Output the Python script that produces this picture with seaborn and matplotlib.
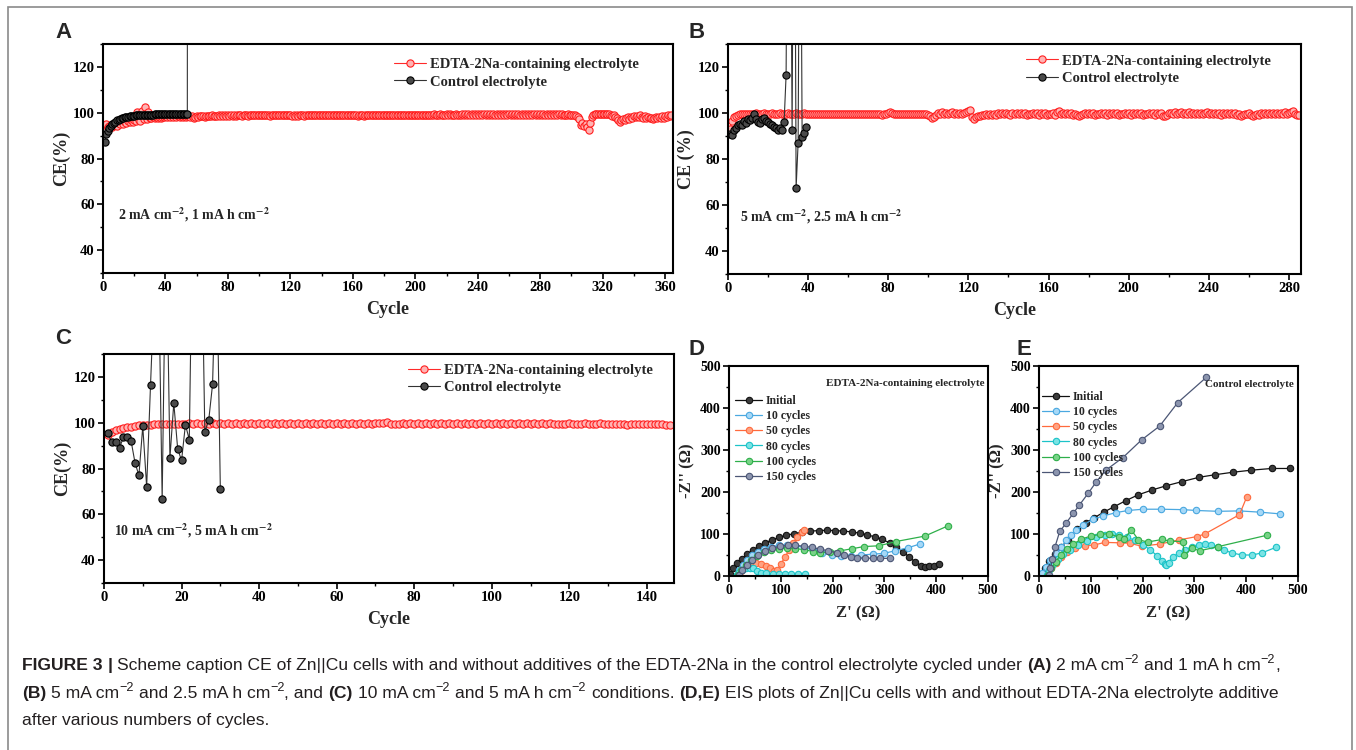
import matplotlib
matplotlib.use("Agg")
import numpy as np
import pandas as pd
import seaborn as sns
import matplotlib.pyplot as plt
from matplotlib.ticker import MultipleLocator
from matplotlib.patches import Rectangle

# ---------------- data ----------------
# Panel A: 2 mA cm-2, 1 mA h cm-2
a_edta = [94.5, 95.1, 93.8, 94.3, 94.7, 93.9, 94.8, 95.3, 94.4, 95.5, 94.9, 95.8, 95.2, 96.1, 95.6, 96.3, 95.8, 96.6, 96.0, 96.9,
          96.3, 100.3, 96.9, 96.5, 100.9, 97.2, 102.6, 97.4, 100.5, 97.8, 97.5, 98.0, 97.6, 98.1, 97.8, 98.2, 97.9, 98.3, 98.0, 98.4,
          98.1, 98.4, 98.2, 98.5, 98.1, 98.4, 98.2, 98.5, 98.3, 98.6, 98.2, 98.5, 98.3, 98.6, 98.4, 98.1, 98.4, 97.9, 98.3, 98.5,
          98.3, 98.6, 98.4, 98.7, 98.3, 98.6, 98.4, 98.7, 98.5, 98.8, 98.4, 98.7, 98.5, 98.8, 98.6, 98.9, 98.5, 98.8, 98.6, 98.9,
          98.7, 98.9, 98.6, 99.0, 98.7, 98.9, 98.8, 99.0, 98.7, 99.1, 98.8, 99.0, 98.7, 99.1, 98.9, 99.0, 98.8, 99.1, 98.9, 99.2,
          98.9, 99.1, 98.8, 99.0, 98.9, 99.1, 98.7, 99.0, 98.8, 99.1, 98.9, 99.0, 98.8, 99.1, 98.9, 99.2, 98.8, 99.0, 98.9, 99.1,
          98.7, 98.9, 98.6, 98.9, 98.7, 99.0, 98.8, 98.9, 98.7, 99.0, 98.8, 99.1, 98.9, 99.0, 98.8, 99.1, 98.9, 99.2, 98.9, 99.1,
          99.0, 99.2, 98.9, 99.1, 99.0, 99.2, 98.9, 99.1, 99.0, 99.2, 98.9, 99.1, 98.8, 99.0, 98.9, 99.1, 98.8, 99.0, 98.9, 99.1,
          98.8, 99.0, 98.7, 98.9, 98.8, 99.0, 98.7, 98.9, 98.8, 99.0, 98.9, 99.1, 98.8, 99.0, 98.9, 99.1, 98.8, 99.0, 98.9, 99.1,
          98.9, 99.1, 99.0, 99.2, 98.9, 99.1, 99.0, 99.2, 99.0, 99.1, 98.9, 99.2, 99.0, 99.1, 98.9, 99.2, 99.0, 99.1, 99.0, 99.2,
          99.0, 99.2, 98.9, 99.1, 99.0, 99.2, 99.0, 99.1, 98.9, 99.2, 99.0, 99.3, 99.1, 99.2, 99.0, 99.3, 99.1, 99.2, 99.0, 99.3,
          99.1, 99.3, 99.0, 99.2, 99.1, 99.3, 99.0, 99.2, 99.1, 99.4, 99.1, 99.3, 99.2, 99.4, 99.1, 99.3, 99.2, 99.4, 99.1, 99.3,
          99.2, 99.4, 99.1, 99.3, 99.2, 99.4, 99.1, 99.3, 99.2, 99.4, 99.2, 99.3, 99.1, 99.4, 99.2, 99.3, 99.1, 99.4, 99.2, 99.3,
          99.1, 99.3, 99.2, 99.4, 99.1, 99.3, 99.2, 99.4, 99.1, 99.3, 99.2, 99.4, 99.1, 99.3, 99.2, 99.3, 99.1, 99.4, 99.2, 99.3,
          99.1, 99.3, 99.2, 99.3, 99.1, 99.3, 99.2, 99.4, 99.1, 99.3, 99.2, 99.3, 99.1, 99.3, 99.0, 99.2, 99.1, 99.3, 99.0, 99.2,
          99.0, 98.9, 98.7, 98.3, 97.4, 94.6, 95.6, 94.1, 95.2, 93.6, 92.6, 95.4, 98.3, 99.2, 99.4, 99.5, 99.3, 99.5, 99.4, 99.6,
          99.4, 99.5, 99.3, 99.4, 99.1, 98.6, 99.0, 98.1, 97.6, 96.9, 96.1, 96.6, 97.3, 96.8, 97.6, 98.1, 97.3, 98.3, 97.6, 98.5,
          98.0, 98.7, 98.2, 98.8, 98.3, 97.8, 98.4, 97.6, 98.1, 97.5, 97.9, 97.4, 97.8, 98.3, 97.5, 98.1, 97.6, 98.4, 97.8, 98.6,
          98.3, 98.9, 98.6, 99.1]
a_ctrl = [87.0, 90.8, 92.2, 93.3, 94.2, 95.0, 95.6, 96.1, 96.6, 97.0,
          97.3, 97.6, 97.8, 98.0, 98.2, 98.3, 98.4, 98.5, 98.6, 98.7,
          98.8, 98.8, 98.9, 98.9, 99.0, 99.0, 99.1, 99.1, 99.1, 99.2,
          99.2, 99.2, 99.3, 99.3, 99.3, 99.3, 99.4, 99.4, 99.4, 99.4,
          99.4, 99.5, 99.5, 99.5, 99.5, 99.5, 99.5, 99.5, 99.6, 99.5,
          99.6, 99.5, 99.6, 99.6, 1500.0]

# Panel B: 5 mA cm-2, 2.5 mA h cm-2
b_edta = [93.0, 96.5, 98.2, 98.8, 99.2, 99.4, 99.5, 99.6, 99.5, 99.7, 99.6, 99.7, 99.5, 99.8, 99.6, 99.7, 99.5, 99.8, 99.6, 99.7,
          99.5, 99.8, 99.6, 99.7, 99.5, 99.8, 99.6, 99.7, 99.4, 99.8, 99.6, 99.7, 99.5, 99.8, 99.6, 99.7, 99.5, 99.8, 99.6, 99.7,
          99.5, 99.7, 99.4, 99.6, 99.5, 99.7, 99.4, 99.6, 99.5, 99.7, 99.4, 99.6, 99.5, 99.7, 99.4, 99.6, 99.5, 99.7, 99.4, 99.6,
          99.5, 99.7, 99.4, 99.6, 99.5, 99.7, 99.4, 99.6, 99.5, 99.7, 99.4, 99.6, 99.5, 99.7, 99.4, 99.6, 99.3, 99.7, 99.4, 100.1,
          100.6, 99.8, 99.4, 99.6, 99.5, 99.7, 99.4, 99.6, 99.5, 99.7, 99.4, 99.6, 99.5, 99.7, 99.4, 99.6, 99.5, 99.7, 99.4, 99.2,
          98.6, 97.9, 98.4, 99.3, 100.2, 99.6, 100.3, 99.5, 100.1, 99.4, 99.9, 100.3, 99.6, 100.0, 99.4, 99.8, 99.5, 99.9, 100.4, 100.7,
          101.2, 98.4, 97.6, 98.1, 98.6, 98.9, 99.2, 99.0, 99.4, 99.1, 99.5, 99.2, 99.6, 99.3, 100.2, 99.5, 99.8, 99.4, 100.1, 99.6,
          99.3, 99.8, 99.5, 100.2, 99.4, 99.9, 99.5, 100.0, 99.3, 99.7, 99.4, 99.9, 99.5, 100.1, 99.3, 99.8, 99.5, 100.0, 99.2, 99.7,
          99.4, 99.9, 99.1, 100.3, 100.7, 99.6, 99.8, 99.4, 100.1, 99.5, 99.9, 99.3, 99.7, 99.0, 98.6, 99.2, 99.6, 99.9, 99.4, 99.8,
          99.5, 100.0, 99.3, 99.7, 99.4, 99.9, 99.5, 100.1, 99.3, 99.8, 99.4, 99.9, 99.5, 100.0, 99.3, 99.7, 99.4, 99.9, 99.5, 100.1,
          99.3, 99.8, 99.4, 99.9, 99.5, 100.0, 99.3, 99.7, 99.4, 99.9, 99.5, 100.1, 99.3, 99.8, 99.4, 99.9, 98.9, 98.7, 99.3, 99.9,
          100.2, 99.5, 100.3, 99.4, 99.9, 100.4, 99.6, 100.0, 99.5, 100.3, 99.7, 100.1, 99.4, 99.9, 99.6, 100.2, 99.5, 99.8, 100.3, 99.6,
          99.9, 99.4, 100.2, 99.5, 99.8, 99.3, 100.1, 99.6, 99.9, 99.4, 100.0, 99.5, 99.8, 99.2, 99.6, 98.9, 99.3, 99.7, 99.4, 99.9,
          99.2, 98.7, 99.1, 99.6, 99.3, 99.8, 99.5, 100.0, 99.4, 99.9, 99.6, 100.2, 99.5, 99.9, 99.4, 100.0, 99.6, 100.3, 99.5, 99.8,
          100.4, 101.0, 99.6, 99.1, 99.3]
b_ctrl = [91.0, 90.4, 92.4, 93.6, 94.6, 95.4, 95.0, 96.4, 95.8, 97.4, 96.8, 98.0, 99.6, 97.6, 96.2, 95.6, 97.2, 98.0, 96.6, 96.0,
          95.2, 94.6, 94.0, 93.4, 92.8, 93.6, 92.4, 96.0, 116.5, 260.0, 240.0, 92.5, 280.0, 67.5, 87.0, 250.0, 89.6, 91.5, 94.0]

# Panel C: 10 mA cm-2, 5 mA h cm-2
c_edta = [94.5, 95.8, 96.6, 97.2, 97.7, 98.0, 98.3, 98.6, 98.8, 99.0, 99.1, 99.2, 99.3, 99.4, 99.5, 99.5, 99.6, 99.5, 99.6, 99.6,
          99.5, 99.7, 99.6, 99.7, 99.5, 99.7, 99.6, 99.8, 99.6, 99.7, 99.5, 99.7, 99.6, 99.8, 99.5, 99.7, 99.6, 99.8, 99.6, 99.7,
          99.5, 99.7, 99.6, 99.8, 99.6, 99.7, 99.5, 99.8, 99.6, 99.7, 99.5, 99.8, 99.6, 99.7, 99.4, 99.7, 99.6, 99.8, 99.6, 99.7,
          99.6, 99.8, 99.6, 99.7, 99.5, 99.8, 99.6, 99.7, 99.6, 99.8, 99.7, 99.9, 100.3, 99.6, 99.3, 99.6, 99.7, 99.5, 99.8, 99.6,
          99.7, 99.5, 99.8, 99.6, 99.7, 99.5, 99.8, 99.6, 99.7, 99.5, 99.8, 99.6, 99.7, 99.5, 99.8, 99.6, 99.7, 99.5, 99.8, 99.6,
          99.7, 99.5, 99.7, 99.6, 99.8, 99.5, 99.7, 99.6, 99.7, 99.5, 99.7, 99.6, 99.7, 99.5, 99.7, 99.6, 99.4, 99.6, 99.5, 99.7,
          99.5, 99.6, 99.4, 99.7, 99.5, 99.6, 99.4, 99.7, 99.5, 99.6, 99.4, 99.6, 99.5, 99.6, 99.0, 99.5, 99.4, 99.6, 99.5, 99.6,
          99.4, 99.6, 99.5, 99.4, 99.2, 99.0]
c_ctrl = [95.5, 91.4, 91.4, 89.0, 93.6, 93.6, 91.9, 82.5, 77.0, 98.4, 72.0, 116.5, 160.0, 175.0, 66.5, 190.0, 84.6, 108.6, 88.6, 83.5,
          99.1, 92.6, 210.0, 230.0, 200.0, 96.0, 101.0, 116.8, 180.0, 71.2]

# EIS series names and colors
eis_names = ["Initial", "10 cycles", "50 cycles", "80 cycles", "100 cycles", "150 cycles"]
eis_line = ["#111111", "#4aa8e0", "#ff6a3d", "#1cc3c8", "#2eaf4a", "#4b5675"]
eis_face = ["#3c3c3c", "#a6d8f7", "#ffa282", "#7ae3e4", "#78d387", "#8c95ae"]

# Panel D: EDTA-2Na-containing electrolyte
d_zre = [
    [2, 8, 16, 25, 35, 46, 58, 70, 83, 97, 111, 126, 141, 157, 173, 189, 205, 221, 237, 252, 267, 282, 296, 310, 323, 336, 348, 360, 370, 378, 386, 395, 405],
    [15, 20, 27, 35, 45, 56, 68, 82, 97, 112, 128, 145, 162, 180, 198, 216, 235, 255, 278, 300, 320, 345, 368],
    [18, 24, 32, 42, 52, 62, 72, 80, 87, 93, 100, 108, 116, 124, 132, 140, 145],
    [15, 20, 26, 33, 40, 47, 54, 62, 72, 84, 96, 108, 120, 133, 146],
    [18, 24, 32, 42, 54, 67, 81, 96, 112, 128, 145, 162, 175, 195, 215, 238, 260, 290, 322, 378, 422],
    [20, 26, 34, 44, 56, 69, 83, 98, 113, 128, 144, 160, 176, 192, 208, 222, 236, 248, 262, 278, 292, 311],
]
d_zim = [
    [5, 18, 30, 41, 52, 62, 71, 79, 86, 92, 97, 101, 104, 107, 108, 109, 108, 107, 105, 102, 98, 93, 87, 79, 70, 58, 45, 33, 25, 22, 23, 25, 28],
    [2, 14, 26, 38, 49, 58, 65, 70, 73, 74, 72, 68, 62, 55, 50, 48, 48, 50, 52, 54, 60, 67, 76],
    [2, 12, 22, 28, 30, 28, 24, 18, 13, 14, 28, 45, 62, 78, 92, 104, 110],
    [2, 9, 15, 19, 20, 18, 13, 8, 6, 5, 5, 5, 5, 5, 5],
    [2, 14, 26, 38, 48, 56, 62, 65, 66, 65, 63, 58, 55, 58, 60, 65, 70, 72, 82, 95, 119],
    [2, 14, 27, 39, 50, 59, 66, 71, 73, 73, 71, 68, 64, 60, 55, 50, 46, 43, 43, 42, 42, 42],
]

# Panel E: control electrolyte
e_zre = [
    [5, 12, 20, 30, 42, 56, 74, 91, 107, 125, 145, 167, 191, 219, 246, 277, 309, 339, 374, 410, 449, 484],
    [5, 14, 22, 33, 43, 53, 62, 72, 85, 104, 124, 149, 172, 201, 236, 278, 304, 346, 387, 426, 465],
    [18, 24, 32, 42, 55, 70, 88, 107, 127, 156, 175, 198, 233, 271, 305, 320, 387, 401],
    [15, 20, 27, 36, 47, 60, 75, 92, 110, 128, 140, 155, 170, 185, 200, 215, 228, 238, 243, 246, 250, 258, 270, 282, 295, 308, 320, 332, 345, 357, 372, 392, 412, 430, 457],
    [18, 24, 32, 42, 54, 66, 82, 100, 118, 135, 155, 165, 178, 192, 210, 238, 252, 278, 280, 296, 310, 346, 440],
    [20, 22, 26, 31, 40, 53, 66, 78, 95, 111, 129, 162, 198, 233, 268, 323],
]
e_zim = [
    [4, 20, 36, 52, 68, 86, 112, 127, 139, 152, 165, 179, 193, 205, 215, 225, 235, 241, 247, 252, 256, 256],
    [6, 22, 38, 54, 68, 86, 98, 110, 121, 135, 143, 151, 156, 159, 159, 158, 156, 154, 155, 152, 148],
    [2, 18, 32, 45, 57, 66, 72, 74, 80, 79, 78, 71, 76, 86, 94, 100, 146, 188],
    [2, 15, 28, 40, 52, 63, 74, 84, 92, 98, 100, 98, 92, 85, 75, 62, 48, 35, 28, 26, 32, 45, 55, 62, 70, 75, 77, 75, 70, 62, 55, 50, 50, 55, 68],
    [2, 18, 34, 50, 64, 76, 88, 95, 99, 101, 92, 88, 110, 86, 81, 87, 83, 82, 50, 66, 60, 70, 97],
    [2, 18, 40, 70, 106, 127, 149, 169, 197, 225, 252, 282, 324, 357, 413, 473],
]

# ---------------- figure setup ----------------
sns.set_theme(style="ticks")
plt.rcParams["font.family"] = ["Liberation Serif", "DejaVu Serif"]
plt.rcParams["font.weight"] = "bold"
plt.rcParams["axes.labelweight"] = "bold"
plt.rcParams["mathtext.fontset"] = "stix"

W, H = 1356, 750
fig = plt.figure(figsize=(W / 100, H / 100), dpi=100)
fig.patch.set_facecolor("white")


def rect(l, t, r, b):
    return [l / W, 1 - b / H, (r - l) / W, (b - t) / H]


def style_axes(ax):
    for s in ["left", "bottom", "top", "right"]:
        ax.spines[s].set_visible(True)
        ax.spines[s].set_linewidth(1.5)
        ax.spines[s].set_color("black")
    ax.tick_params(which="major", direction="out", length=4, width=1.2,
                   colors="black", labelsize=10.5, pad=2, top=False, right=False)
    ax.tick_params(which="minor", direction="out", length=2.5, width=1.0,
                   colors="black", top=False, right=False)
    ax.set_facecolor("white")
    ax.grid(False)


def ce_panel(box, edta, ctrl, xmax, xstep, ylabel, cond, leg_xy):
    ax = fig.add_axes(rect(*box))
    sns.lineplot(x=np.arange(1, len(edta) + 1), y=edta, ax=ax, color="#ff2a2a",
                 linewidth=0.8, marker="o", markersize=5.2, markerfacecolor="#ffb3b3",
                 markeredgecolor="#ff1f1f", markeredgewidth=0.8, estimator=None, sort=False)
    sns.lineplot(x=np.arange(1, len(ctrl) + 1), y=ctrl, ax=ax, color="#333333",
                 linewidth=0.8, marker="o", markersize=5.2, markerfacecolor="#4a4a4a",
                 markeredgecolor="black", markeredgewidth=0.8, estimator=None, sort=False)
    ax.set_xlim(0, xmax)
    ax.set_ylim(30, 130)
    ax.xaxis.set_major_locator(MultipleLocator(xstep))
    ax.xaxis.set_minor_locator(MultipleLocator(xstep / 2))
    ax.yaxis.set_major_locator(MultipleLocator(20))
    ax.yaxis.set_minor_locator(MultipleLocator(10))
    style_axes(ax)
    ax.set_xlabel("Cycle", fontsize=13, labelpad=5)
    ax.set_ylabel(ylabel, fontsize=13, labelpad=2)
    lines = ax.get_lines()[:2]
    ax.legend(lines, ["EDTA-2Na-containing electrolyte", "Control electrolyte"],
              loc="upper left", bbox_to_anchor=leg_xy, frameon=False, fontsize=10.5,
              handlelength=2.2, handletextpad=0.3, labelspacing=0.3,
              borderaxespad=0, borderpad=0, numpoints=1)
    ax.text(cond[0], cond[1], cond[2], transform=ax.transAxes, fontsize=10,
            fontweight="bold", ha="left", va="center")
    return ax


def eis_panel(box, zre, zim, title, title_xy, leg_xy):
    ax = fig.add_axes(rect(*box))
    for i, name in enumerate(eis_names):
        sns.lineplot(x=zre[i], y=zim[i], ax=ax, color=eis_line[i], linewidth=0.9,
                     marker="o", markersize=4.6, markerfacecolor=eis_face[i],
                     markeredgecolor=eis_line[i], markeredgewidth=0.8,
                     estimator=None, sort=False)
    ax.set_xlim(0, 500)
    ax.set_ylim(0, 500)
    ax.xaxis.set_major_locator(MultipleLocator(100))
    ax.xaxis.set_minor_locator(MultipleLocator(50))
    ax.yaxis.set_major_locator(MultipleLocator(100))
    ax.yaxis.set_minor_locator(MultipleLocator(50))
    style_axes(ax)
    ax.tick_params(labelsize=10)
    ax.set_xlabel("Z' (\u03a9)", fontsize=12, labelpad=6)
    ax.set_ylabel("-Z'' (\u03a9)", fontsize=12, labelpad=3)
    ax.text(title_xy[0], title_xy[1], title, transform=ax.transAxes, fontsize=8,
            fontweight="bold", ha="right", va="center")
    ax.legend(ax.get_lines()[:6], eis_names, loc="upper left", bbox_to_anchor=leg_xy,
              frameon=False, fontsize=8.5, handlelength=2.3, handletextpad=0.3,
              labelspacing=0.27, borderaxespad=0, borderpad=0, numpoints=1)
    return ax


ce_panel((103, 44, 673, 273), a_edta, a_ctrl, 365, 40, "CE(%)",
         (0.026, 0.253, r"2 mA cm$^{\mathbf{-2}}$, 1 mA h cm$^{\mathbf{-2}}$"), (0.51, 0.94))
ce_panel((728, 44, 1301, 274), b_edta, b_ctrl, 286, 40, "CE (%)",
         (0.021, 0.25, r"5 mA cm$^{\mathbf{-2}}$, 2.5 mA h cm$^{\mathbf{-2}}$"), (0.52, 0.955))
ce_panel((104, 354, 674, 583), c_edta, c_ctrl, 147, 20, "CE(%)",
         (0.018, 0.23, r"10 mA cm$^{\mathbf{-2}}$, 5 mA h cm$^{\mathbf{-2}}$"), (0.533, 0.958))
eis_panel((729, 366, 988, 576), d_zre, d_zim, "EDTA-2Na-containing electrolyte",
          (0.985, 0.919), (0.023, 0.862))
eis_panel((1039, 366, 1298, 576), e_zre, e_zim, "Control electrolyte",
          (0.985, 0.91), (0.012, 0.881))

# panel letters
for letter, (px, py) in zip("ABCDE", [(63, 33), (697, 33), (63, 338), (696, 349), (1024, 349)]):
    fig.text(px / W, 1 - py / H, letter, fontsize=16, fontweight="bold",
             family=["Liberation Sans", "DejaVu Sans"], ha="center", va="center")

# outer frame (open at the bottom)
fig.add_artist(Rectangle((8 / W, -0.05), (1352 - 8) / W, 1.05 - 7 / H, fill=False,
                         edgecolor="#8a8a8a", linewidth=1.2, transform=fig.transFigure,
                         clip_on=False))

# ---------------- caption ----------------
SUP = "\u22122"
cap_lines = [
    [("FIGURE 3", "b"), (" | ", "b"),
     ("Scheme caption CE of Zn||Cu cells with and without additives of the EDTA-2Na in the control electrolyte cycled under ", "r"),
     ("(A)", "b"), (" 2 mA cm", "r"), (SUP, "s"), (" and 1 mA h cm", "r"), (SUP, "s"), (",", "r")],
    [("(B)", "b"), (" 5 mA cm", "r"), (SUP, "s"), (" and 2.5 mA h cm", "r"), (SUP, "s"), (", and ", "r"),
     ("(C)", "b"), (" 10 mA cm", "r"), (SUP, "s"), (" and 5 mA h cm", "r"), (SUP, "s"), (" conditions. ", "r"),
     ("(D,E)", "b"), (" EIS plots of Zn||Cu cells with and without EDTA-2Na electrolyte additive", "r")],
    [("after various numbers of cycles.", "r")],
]
cap_font = ["Liberation Sans", "DejaVu Sans"]
renderer = fig.canvas.get_renderer()


def rich_line(x0, base_y, parts, size, draw=True):
    def width(s, fs, wt):
        t = fig.text(0, 0, s, fontsize=fs, fontweight=wt, family=cap_font)
        w = t.get_window_extent(renderer).width
        t.remove()
        return w

    sp = width("a a", size, "normal") - width("aa", size, "normal")
    x = x0
    made = []
    for s, kind in parts:
        fs = size * 0.72 if kind == "s" else size
        wt = "bold" if kind == "b" else "normal"
        lead = len(s) - len(s.lstrip(" "))
        trail = len(s) - len(s.rstrip(" "))
        x += lead * sp
        dy = size * 100 / 72 * 0.42 if kind == "s" else 0
        t = fig.text(x / W, 1 - (base_y - dy) / H, s.strip(" "), fontsize=fs, fontweight=wt,
                     family=cap_font, ha="left", va="baseline", color="#231f20")
        made.append(t)
        x += t.get_window_extent(renderer).width + trail * sp
    if not draw:
        for t in made:
            t.remove()
    return x - x0


w0 = rich_line(22, 670, cap_lines[0], 12, draw=False)
cap_size = 12 * (1283 - 22) / w0
for ln, by in zip(cap_lines, [670, 698, 725]):
    rich_line(22, by, ln, cap_size)

fig.savefig("out.png", dpi=100, facecolor="white")
